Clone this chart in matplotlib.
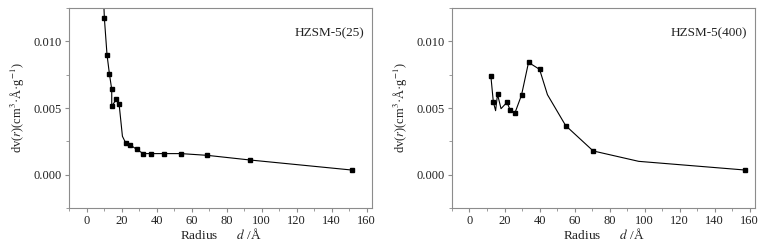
import numpy as np
import matplotlib.pyplot as plt
from matplotlib.ticker import MultipleLocator

plt.rcParams['font.family'] = ['Liberation Serif', 'DejaVu Serif']
plt.rcParams['mathtext.fontset'] = 'stix'
plt.rcParams['font.size'] = 9

# HZSM-5(25): curve vertices and marker points
left_curve_x = [9.8, 10.2, 11.7, 13.1, 14.4, 14.4, 17.0, 18.6, 20.5, 22.3, 24.8, 28.6,
                32.4, 37.1, 44.1, 54.0, 68.9, 93.4, 151.3]
left_curve_y = [0.0130, 0.01173, 0.0090, 0.00753, 0.0064, 0.00513, 0.00565, 0.0053, 0.00288,
                0.0024, 0.00225, 0.0019, 0.00158, 0.00158, 0.00158, 0.00158, 0.00145,
                0.0011, 0.00035]
left_pts_x = [10.2, 11.7, 13.1, 14.4, 14.4, 17.0, 18.6, 22.3, 24.8, 28.6, 32.4, 37.1,
              44.1, 54.0, 68.9, 93.4, 151.3]
left_pts_y = [0.01173, 0.0090, 0.00753, 0.0064, 0.00513, 0.00565, 0.0053, 0.0024, 0.00225,
              0.0019, 0.00158, 0.00158, 0.00158, 0.00158, 0.00145, 0.0011, 0.00035]

# HZSM-5(400)
right_curve_x = [12.2, 13.6, 14.9, 16.0, 18.0, 21.4, 23.3, 26.0, 29.7, 33.7, 40.0, 44.5,
                 54.9, 70.6, 96.6, 157.2]
right_curve_y = [0.0074, 0.00546, 0.0048, 0.00603, 0.00495, 0.00543, 0.00482, 0.00465,
                 0.00597, 0.00842, 0.0079, 0.0060, 0.00368, 0.00178, 0.0010, 0.00035]
right_pts_x = [12.2, 13.6, 16.0, 21.4, 23.3, 26.0, 29.7, 33.7, 40.0, 54.9, 70.6, 157.2]
right_pts_y = [0.0074, 0.00546, 0.00603, 0.00543, 0.00482, 0.00465, 0.00597, 0.00842,
               0.0079, 0.00368, 0.00178, 0.00035]

panels = [
    ('HZSM-5(25)', left_curve_x, left_curve_y, left_pts_x, left_pts_y, 0.0888),
    ('HZSM-5(400)', right_curve_x, right_curve_y, right_pts_x, right_pts_y, 0.5817),
]

fig = plt.figure(figsize=(7.77, 2.43), dpi=100)
grey = '#8c8c8c'
ink = '#222222'

for name, cx, cy, px, py, left in panels:
    ax = fig.add_axes([left, 0.144, 0.39, 0.823])
    ax.plot(cx, cy, color='black', lw=0.8)
    ax.plot(px, py, 's', color='black', ms=3.3)
    ax.set_xlim(-10, 163)
    ax.set_ylim(-0.0025, 0.0125)
    ax.xaxis.set_major_locator(MultipleLocator(20))
    ax.xaxis.set_minor_locator(MultipleLocator(10))
    ax.yaxis.set_major_locator(MultipleLocator(0.005))
    ax.yaxis.set_minor_locator(MultipleLocator(0.0025))
    ax.yaxis.set_major_formatter(plt.FormatStrFormatter('%.3f'))
    for s in ax.spines.values():
        s.set_color(grey)
        s.set_linewidth(0.8)
    ax.tick_params(which='both', direction='out', color=grey, labelcolor=ink,
                   top=False, right=False, labelsize=9, pad=2)
    ax.tick_params(which='major', length=3)
    ax.tick_params(which='minor', length=2)
    ax.set_xlabel(r'Radius      $\mathit{d}$ /Å', fontsize=9.5, labelpad=0, color=ink)
    ax.set_ylabel(r'dv($\mathit{r}$)(cm$^{3}$·Å·g$^{-1}$)', fontsize=9, labelpad=5,
                  color=ink)
    ax.text(0.975, 0.875, name, transform=ax.transAxes, ha='right', va='center',
            fontsize=9.5, color=ink)

fig.savefig('out.png', dpi=100)
